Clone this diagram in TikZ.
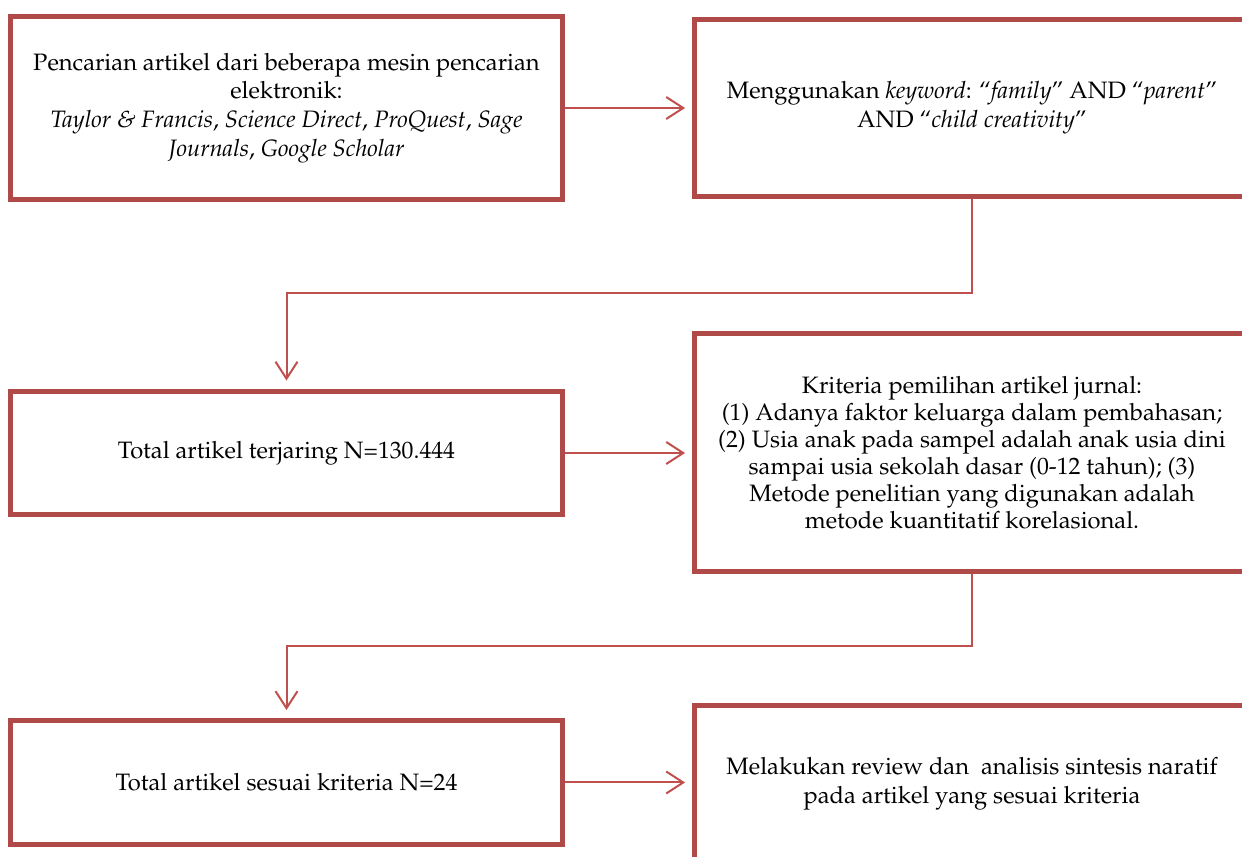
\documentclass[tikz,border=0pt]{standalone}
\usepackage[T1]{fontenc}
\usepackage{mathpazo}
\usetikzlibrary{arrows.meta,positioning}
\definecolor{boxred}{RGB}{176,74,72}
\definecolor{linered}{RGB}{192,80,77}

\begin{document}
\begin{tikzpicture}[
  x=0.02cm, y=-0.02cm,
  font=\fontsize{13.5}{16.4}\selectfont,
  box/.style={draw=boxred, line width=0.1cm, align=center, inner sep=0pt},
  lbox/.style={box, minimum width=11.06cm},
  rbox/.style={box, minimum width=11.12cm},
  arr/.style={-{Straight Barb[length=3.4mm,width=4.4mm]}, draw=linered, line width=0.04cm}
]
\useasboundingbox (0,0) rectangle (1242,857);
\node[lbox, minimum height=3.68cm] (search) at (286.5,108)
  {Pencarian artikel dari beberapa mesin pencarian\\elektronik:\\
   \textit{Taylor \& Francis}, \textit{Science Direct}, \textit{ProQuest}, \textit{Sage}\\
   \textit{Journals}, \textit{Google Scholar}};
\node[rbox, minimum height=3.56cm] (keyword) at (972,108)
  {Menggunakan \textit{keyword}: ``\textit{family}'' AND ``\textit{parent}''\\
   AND ``\textit{child creativity}''};
\node[lbox, minimum height=2.48cm] (total) at (286.5,453)
  {Total artikel terjaring N=130.444};
\node[rbox, minimum height=4.78cm, font=\fontsize{13.5}{15.4}\selectfont] (criteria) at (972,452.5)
  {Kriteria pemilihan artikel jurnal:\\
   (1) Adanya faktor keluarga dalam pembahasan;\\
   (2) Usia anak pada sampel adalah anak usia dini\\
   sampai usia sekolah dasar (0-12 tahun); (3)\\
   Metode penelitian yang digunakan adalah\\
   metode kuantitatif korelasional.};
\node[lbox, minimum height=2.5cm] (final) at (286.5,782.5)
  {Total artikel sesuai kriteria N=24};
\node[rbox, minimum height=3.14cm] (review) at (972,783.5)
  {Melakukan review dan \ analisis sintesis naratif\\
   pada artikel yang sesuai kriteria};
% connectors
\draw[arr, shorten >=1.3mm] (search.east) -- (search.east -| keyword.west);
\draw[arr, shorten >=1.6mm] (keyword.south) -- ++(0,93.5) -| (total.north);
\draw[arr, shorten >=1.3mm] (total.east) -- (total.east -| criteria.west);
\draw[arr, shorten >=1.5mm] (criteria.south) -- ++(0,71.5) -| (final.north);
\draw[arr, shorten >=1.3mm] (final.east) -- (final.east -| review.west);
\end{tikzpicture}
\end{document}
